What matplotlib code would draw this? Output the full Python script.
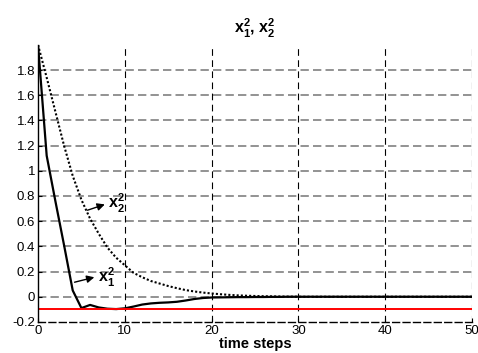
import numpy as np
import matplotlib.pyplot as plt

plt.rcParams['font.family'] = ['Liberation Sans', 'DejaVu Sans']
plt.rcParams['mathtext.fontset'] = 'custom'
plt.rcParams['mathtext.rm'] = 'Liberation Sans'
plt.rcParams['mathtext.bf'] = 'Liberation Sans:bold'

# time steps 0..50
t = np.arange(51)

# x1^2 (solid)
x1 = [2.0, 1.12, 0.76, 0.41, 0.05, -0.09, -0.065, -0.085, -0.095, -0.098,
      -0.092, -0.078, -0.062, -0.053, -0.048, -0.045, -0.04, -0.03, -0.018, -0.01,
      -0.006, -0.005, -0.004, -0.003, -0.003, -0.002, -0.002, -0.001, -0.001, 0.0,
      0.0] + [0.0] * 20

# x2^2 (dotted)
x2 = [2.0, 1.74, 1.47, 1.2, 0.96, 0.77, 0.62, 0.5, 0.39, 0.31,
      0.25, 0.19, 0.155, 0.125, 0.105, 0.085, 0.068, 0.053, 0.042, 0.033,
      0.026, 0.02, 0.015, 0.011, 0.008, 0.006, 0.004, 0.003, 0.002, 0.001,
      0.0] + [0.0] * 20

bound = -0.1
xticks = [0, 10, 20, 30, 40, 50]
yticks = [-0.2, 0, 0.2, 0.4, 0.6, 0.8, 1, 1.2, 1.4, 1.6, 1.8]
yticklabels = ['-0.2', '0', '0.2', '0.4', '0.6', '0.8', '1', '1.2', '1.4', '1.6', '1.8']

fig = plt.figure(figsize=(4.78, 3.53), dpi=100)
ax = fig.add_axes([0.0795, 0.088, 0.908, 0.785])

ax.plot(t, x2, color='black', linestyle=(0, (1, 1)), linewidth=1.5)
ax.plot(t, x1, color='black', linestyle='-', linewidth=1.6)
ax.axhline(bound, color='red', linewidth=1.4)

ax.set_xlim(0, 50)
ax.set_ylim(-0.2, 2.0)
ax.set_xticks(xticks)
ax.set_yticks(yticks)
ax.set_yticklabels(yticklabels)
ax.tick_params(direction='in', length=3, labelsize=9.5, width=0.8, pad=2)

# grid: gray dashed horizontals, black dashed verticals
ax.grid(False)
for y in yticks[1:]:
    ax.axhline(y, color='#808080', linestyle=(0, (5, 2.5)), linewidth=1.2, zorder=0)
for x in xticks[1:]:
    ax.axvline(x, color='black', linestyle=(0, (6, 4)), linewidth=0.8, zorder=0)

ax.spines['top'].set_visible(False)
ax.spines['right'].set_visible(False)
ax.spines['left'].set_linewidth(1.0)
ax.spines['bottom'].set_linestyle((0, (5, 2.5)))
ax.spines['bottom'].set_linewidth(1.0)

# arrows and labels
ax.annotate('', xy=(8.0, 0.74), xytext=(5.4, 0.68),
            arrowprops=dict(arrowstyle='-|>', color='black', lw=1.0, mutation_scale=11))
ax.text(8.1, 0.74, r'$\mathbf{x}_\mathbf{2}^\mathbf{2}$', fontsize=11.5, va='center', ha='left')
ax.annotate('', xy=(6.8, 0.16), xytext=(3.9, 0.11),
            arrowprops=dict(arrowstyle='-|>', color='black', lw=1.0, mutation_scale=11))
ax.text(6.9, 0.15, r'$\mathbf{x}_\mathbf{1}^\mathbf{2}$', fontsize=11.5, va='center', ha='left')

ax.set_title(r'$\mathbf{x}_\mathbf{1}^\mathbf{2}$, $\mathbf{x}_\mathbf{2}^\mathbf{2}$',
             fontsize=11.5, fontweight='bold', pad=8)
ax.set_xlabel('time steps', fontsize=10.5, fontweight='bold', labelpad=0)

fig.savefig('out.png', dpi=100)
